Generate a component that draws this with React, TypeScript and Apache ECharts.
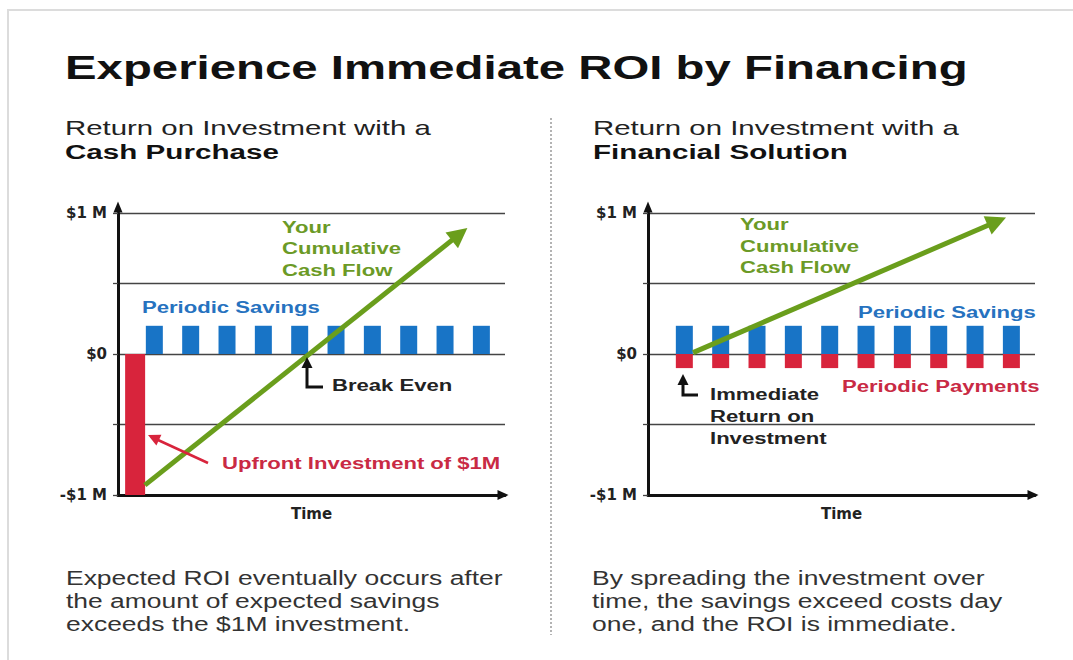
import React, { useEffect, useRef } from "react";
import * as echarts from "echarts";

// ---------- data ----------
const periods = [1, 2, 3, 4, 5, 6, 7, 8, 9, 10];
// Cash purchase ($M)
const cashUpfrontTime = [0.43];
const cashUpfrontValue = [-1];
const cashPeriodicSavings = [0.2, 0.2, 0.2, 0.2, 0.2, 0.2, 0.2, 0.2, 0.2, 0.2];
const cashFlowLine = [
  [0.74, -0.93],
  [9.4, 0.85],
];
// Financial solution ($M)
const finPeriodicSavings = [0.2, 0.2, 0.2, 0.2, 0.2, 0.2, 0.2, 0.2, 0.2, 0.2];
const finPeriodicPayments = [-0.1, -0.1, -0.1, -0.1, -0.1, -0.1, -0.1, -0.1, -0.1, -0.1];
const finFlowLine = [
  [1.24, 0.01],
  [9.6, 0.94],
];
const yLabelMap: Record<string, string> = { "1": "$1 M", "0": "$0", "-1": "-$1 M" };
const TIME_MAX = 10.65;

const GREEN = "#6a9e1c";
const GREEN_TEXT = "#6b9a26";
const BLUE = "#1874c6";
const BLUE_TEXT = "#2672bf";
const RED = "#d8243c";
const RED_TEXT = "#c92a44";
const FONT = "'Liberation Sans', Arial, Helvetica, sans-serif";
const AXIS_FONT = "'DejaVu Sans', sans-serif";

function txt(
  x: number,
  y: number,
  text: string,
  size: number,
  weight: string,
  color: string,
  scaleX: number,
  lineHeight?: number,
  vAlign: string = "middle"
) {
  return {
    type: "text",
    x,
    y,
    scaleX,
    silent: true,
    z: 100,
    style: {
      text,
      fontSize: size,
      fontWeight: weight,
      fontFamily: FONT,
      fill: color,
      align: "left",
      verticalAlign: vAlign,
      textAlign: "left",
      textVerticalAlign: vAlign,
      lineHeight: lineHeight || size * 1.2,
    },
  };
}

function xAxisCfg(gridIndex: number) {
  return {
    type: "value",
    gridIndex,
    min: 0,
    max: TIME_MAX,
    name: "Time",
    nameLocation: "middle",
    nameGap: 11,
    nameTextStyle: { fontFamily: AXIS_FONT, fontWeight: "bold", fontSize: 15, color: "#222" },
    axisLine: {
      onZero: false,
      lineStyle: { color: "#111", width: 3 },
      symbol: ["none", "triangle"],
      symbolSize: [10, 11],
      symbolOffset: [0, -2],
    },
    axisTick: { show: false },
    axisLabel: { show: false },
    splitLine: { show: false },
  };
}

function yAxisCfg(gridIndex: number) {
  return {
    type: "value",
    gridIndex,
    min: -1,
    max: 1,
    interval: 0.5,
    axisLine: {
      show: true,
      onZero: false,
      lineStyle: { color: "#111", width: 3 },
      symbol: ["none", "triangle"],
      symbolSize: [9, 11],
      symbolOffset: [0, 6],
    },
    axisTick: { show: true, length: 5, lineStyle: { color: "#444", width: 1.3 } },
    axisLabel: {
      margin: 11,
      fontFamily: AXIS_FONT,
      fontWeight: "bold",
      fontSize: 15,
      color: "#222",
      formatter: (v: number) => yLabelMap[String(Math.round(v * 100) / 100)] || "",
    },
    splitLine: { show: true, lineStyle: { color: "#444", width: 1.3 } },
  };
}

export default function App() {
  const ref = useRef<HTMLDivElement>(null);

  useEffect(() => {
    if (!ref.current) return;
    const chart = echarts.init(ref.current, undefined, { renderer: "svg" });

    const option: any = {
      animation: false,
      backgroundColor: "#ffffff",
      grid: [
        { left: 118, top: 213, width: 387, height: 282 },
        { left: 648, top: 213, width: 387, height: 282 },
      ],
      xAxis: [xAxisCfg(0), xAxisCfg(1)],
      yAxis: [yAxisCfg(0), yAxisCfg(1)],
      series: [
        {
          name: "Upfront Investment",
          type: "bar",
          xAxisIndex: 0,
          yAxisIndex: 0,
          barWidth: 20,
          barGap: "-100%",
          itemStyle: { color: RED },
          data: cashUpfrontTime.map((t, i) => [t, cashUpfrontValue[i]]),
          z: 3,
        },
        {
          name: "Periodic Savings",
          type: "bar",
          xAxisIndex: 0,
          yAxisIndex: 0,
          barWidth: 17,
          barGap: "-100%",
          itemStyle: { color: BLUE },
          data: periods.map((t, i) => [t, cashPeriodicSavings[i]]),
          z: 3,
        },
        {
          name: "Your Cumulative Cash Flow",
          type: "lines",
          coordinateSystem: "cartesian2d",
          xAxisIndex: 0,
          yAxisIndex: 0,
          symbol: ["none", "triangle"],
          symbolSize: 20,
          lineStyle: { color: GREEN, width: 5, opacity: 1 },
          data: [{ coords: cashFlowLine }],
          z: 6,
        },
        {
          name: "Periodic Savings (financed)",
          type: "bar",
          xAxisIndex: 1,
          yAxisIndex: 1,
          stack: "fin",
          barWidth: 17,
          itemStyle: { color: BLUE },
          data: periods.map((t, i) => [t, finPeriodicSavings[i]]),
          z: 3,
        },
        {
          name: "Periodic Payments",
          type: "bar",
          xAxisIndex: 1,
          yAxisIndex: 1,
          stack: "fin",
          barWidth: 17,
          itemStyle: { color: RED },
          data: periods.map((t, i) => [t, finPeriodicPayments[i]]),
          z: 3,
        },
        {
          name: "Your Cumulative Cash Flow (financed)",
          type: "lines",
          coordinateSystem: "cartesian2d",
          xAxisIndex: 1,
          yAxisIndex: 1,
          symbol: ["none", "triangle"],
          symbolSize: 20,
          lineStyle: { color: GREEN, width: 5, opacity: 1 },
          data: [{ coords: finFlowLine }],
          z: 6,
        },
      ],
      graphic: [
        // frame
        {
          type: "rect",
          silent: true,
          shape: { x: 8, y: 10, width: 1100, height: 700 },
          style: { fill: "none", stroke: "#dcdcdc", lineWidth: 2 },
        },
        // divider
        {
          type: "line",
          silent: true,
          shape: { x1: 551, y1: 118, x2: 551, y2: 635 },
          style: { stroke: "#9a9a9a", lineWidth: 1.5, lineDash: [2, 2] },
        },
        // title
        txt(65, 67.5, "Experience Immediate ROI by Financing", 34, "bold", "#111", 1.393),
        // subtitles
        txt(65, 128, "Return on Investment with a", 21, "normal", "#222", 1.4),
        txt(65, 151.5, "Cash Purchase", 21, "bold", "#111", 1.41),
        txt(593, 128, "Return on Investment with a", 21, "normal", "#222", 1.4),
        txt(593, 151.5, "Financial Solution", 21, "bold", "#111", 1.41),
        // captions
        txt(66, 566.5, "Expected ROI eventually occurs after\nthe amount of expected savings\nexceeds the $1M investment.", 21, "normal", "#333", 1.26, 23, "top"),
        txt(592, 566.5, "By spreading the investment over\ntime, the savings exceed costs day\none, and the ROI is immediate.", 21, "normal", "#333", 1.26, 23, "top"),
        // left annotations
        txt(282, 216.5, "Your\nCumulative\nCash Flow", 16, "bold", GREEN_TEXT, 1.38, 21.5, "top"),
        txt(142, 307.5, "Periodic Savings", 16, "bold", BLUE_TEXT, 1.38),
        txt(332, 386, "Break Even", 16, "bold", "#222", 1.38),
        txt(222, 463.5, "Upfront Investment of $1M", 16, "bold", RED_TEXT, 1.38),
        // right annotations
        txt(740, 214, "Your\nCumulative\nCash Flow", 16, "bold", GREEN_TEXT, 1.38, 21.5, "top"),
        txt(858, 312.5, "Periodic Savings", 16, "bold", BLUE_TEXT, 1.38),
        txt(842, 386.5, "Periodic Payments", 16, "bold", RED_TEXT, 1.38),
        txt(710, 383.5, "Immediate\nReturn on\nInvestment", 16, "bold", "#222", 1.38, 22, "top"),
        // break even elbow arrow
        {
          type: "polyline",
          silent: true,
          z: 100,
          shape: { points: [[323, 387], [307, 387], [307, 366]] },
          style: { stroke: "#111", lineWidth: 3, fill: "none" },
        },
        {
          type: "polygon",
          silent: true,
          z: 100,
          shape: { points: [[307, 357], [301.5, 368], [312.5, 368]] },
          style: { fill: "#111" },
        },
        // immediate return elbow arrow
        {
          type: "polyline",
          silent: true,
          z: 100,
          shape: { points: [[698, 395], [683, 395], [683, 383]] },
          style: { stroke: "#111", lineWidth: 3, fill: "none" },
        },
        {
          type: "polygon",
          silent: true,
          z: 100,
          shape: { points: [[683, 374], [677.5, 385], [688.5, 385]] },
          style: { fill: "#111" },
        },
        // red arrow to upfront bar
        {
          type: "line",
          silent: true,
          z: 100,
          shape: { x1: 208, y1: 463, x2: 158, y2: 440 },
          style: { stroke: RED, lineWidth: 2.5 },
        },
        {
          type: "polygon",
          silent: true,
          z: 100,
          shape: { points: [[148, 435], [161.4, 434.7], [156.4, 445.5]] },
          style: { fill: RED },
        },
      ],
    };

    chart.setOption(option);
    return () => chart.dispose();
  }, []);

  return (
    <div
      ref={ref}
      style={{ position: "fixed", left: 0, top: 0, width: 1073, height: 660, background: "#fff" }}
    />
  );
}
